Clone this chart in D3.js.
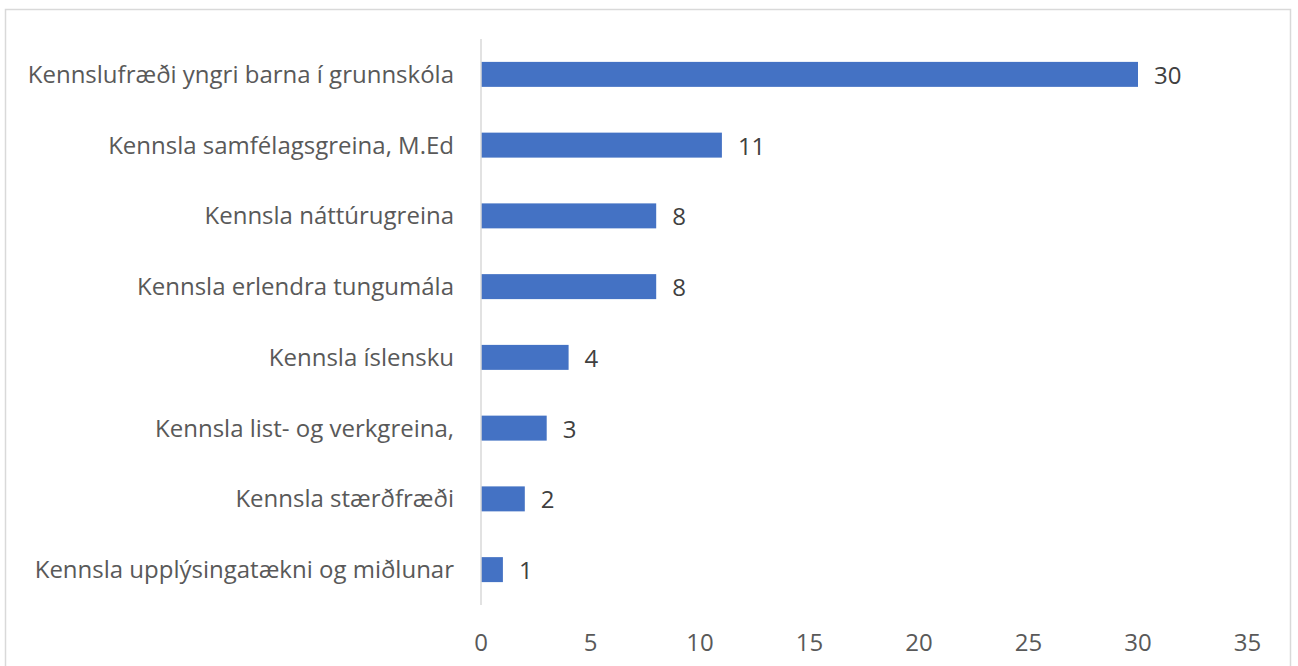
<!DOCTYPE html>
<meta charset="utf-8">
<style>
body { margin: 0; background: #fff; }
svg text { font-family: "Open Sans", sans-serif; }
</style>
<svg id="chart" width="1298" height="666"></svg>
<script src="https://cdn.jsdelivr.net/npm/d3@7"></script>
<script>

var categories = [
  "Kennslufræði yngri barna í grunnskóla",
  "Kennsla samfélagsgreina, M.Ed",
  "Kennsla náttúrugreina",
  "Kennsla erlendra tungumála",
  "Kennsla íslensku",
  "Kennsla list- og verkgreina,",
  "Kennsla stærðfræði",
  "Kennsla upplýsingatækni og miðlunar"
];
var values = [30, 11, 8, 8, 4, 3, 2, 1];
var ticks = [0, 5, 10, 15, 20, 25, 30, 35];

var svg = d3.select("#chart");

// chart frame
svg.append("rect")
    .attr("x", 5.5).attr("y", 9.5)
    .attr("width", 1285).attr("height", 680)
    .attr("fill", "#fff")
    .attr("stroke", "#d9d9d9")
    .attr("stroke-width", 1.5);

var x = d3.scaleLinear()
    .domain([0, 35])
    .range([481, 1247.5]);

var y = d3.scaleBand()
    .domain(categories)
    .range([39, 605])
    .paddingInner(0.647)
    .paddingOuter(0.3235);

svg.selectAll(".bar")
    .data(values)
  .enter().append("rect")
    .attr("class", "bar")
    .attr("x", x(0))
    .attr("y", function(d, i) { return y(categories[i]); })
    .attr("width", function(d) { return x(d) - x(0); })
    .attr("height", y.bandwidth())
    .attr("fill", "#4472c4");

// vertical axis line
svg.append("line")
    .attr("x1", x(0)).attr("x2", x(0))
    .attr("y1", 39).attr("y2", 605)
    .attr("stroke", "#d9d9d9")
    .attr("stroke-width", 1.5);

// category labels
svg.selectAll(".cat")
    .data(categories)
  .enter().append("text")
    .attr("class", "cat")
    .attr("x", 454)
    .attr("y", function(d) { return y(d) + y.bandwidth() / 2; })
    .attr("dy", "0.35em")
    .attr("text-anchor", "end")
    .attr("font-size", 24)
    .attr("fill", "#595959")
    .text(function(d) { return d; });

// value labels
svg.selectAll(".val")
    .data(values)
  .enter().append("text")
    .attr("class", "val")
    .attr("x", function(d) { return x(d) + 16; })
    .attr("y", function(d, i) { return y(categories[i]) + y.bandwidth() / 2 + 1; })
    .attr("dy", "0.35em")
    .attr("font-size", 24)
    .attr("fill", "#404040")
    .text(function(d) { return d; });

// x tick labels
svg.selectAll(".tick")
    .data(ticks)
  .enter().append("text")
    .attr("class", "tick")
    .attr("x", function(d) { return x(d); })
    .attr("y", 643)
    .attr("dy", "0.35em")
    .attr("text-anchor", "middle")
    .attr("font-size", 24)
    .attr("fill", "#595959")
    .text(function(d) { return d; });

</script>
